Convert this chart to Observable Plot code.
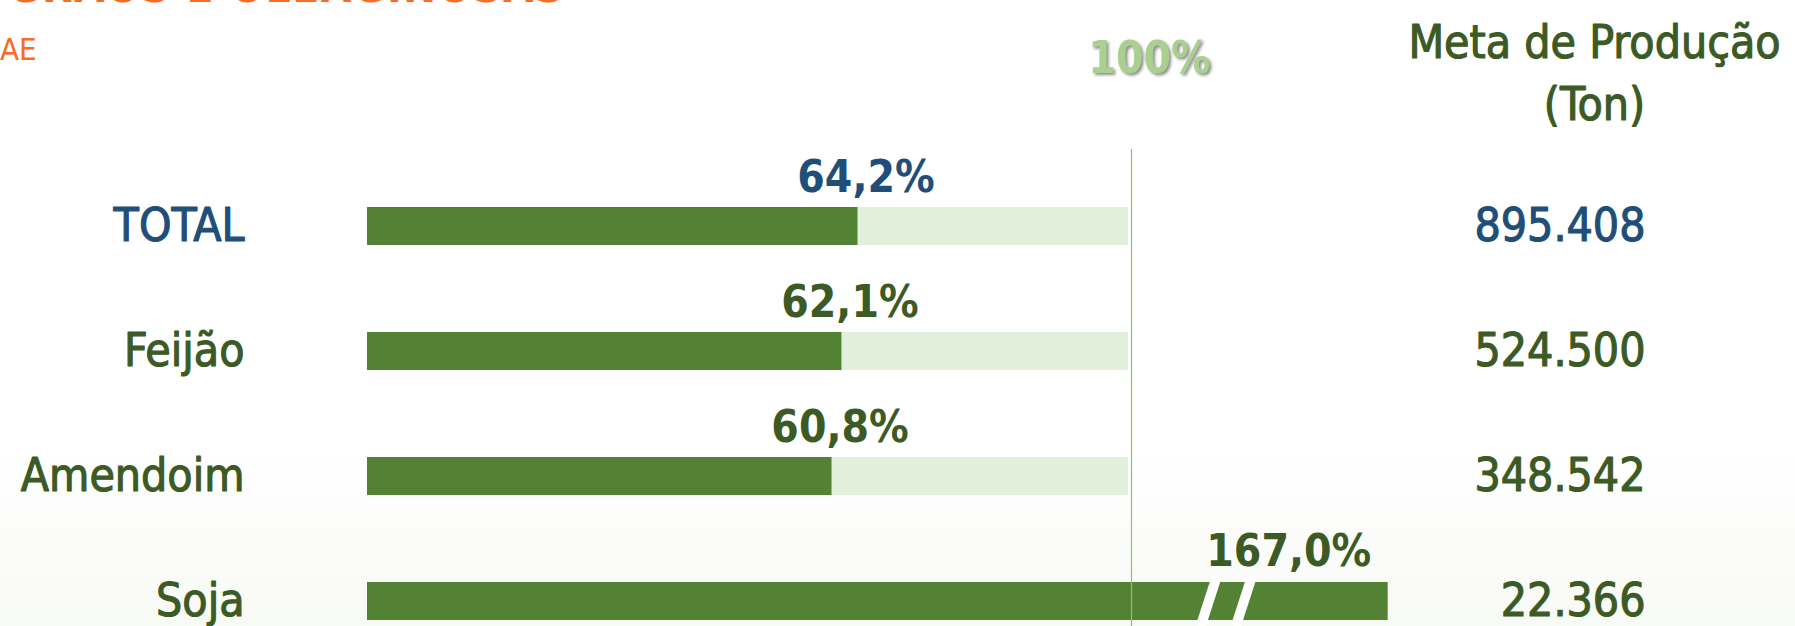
<!DOCTYPE html>
<html>
<head>
<meta charset="utf-8">
<script src="https://cdn.jsdelivr.net/npm/d3@7"></script>
<script src="https://cdn.jsdelivr.net/npm/@observablehq/plot@0.6"></script>
<style>
  html, body { margin: 0; padding: 0; background: #ffffff; }
  body { width: 1795px; height: 626px; position: relative; overflow: hidden;
         font-family: "DejaVu Sans Condensed", sans-serif;
         background: linear-gradient(to bottom, #ffffff 0%, #ffffff 72%, #f8faf5 100%); }
  #title { position: absolute; left: 8px; top: -39px; font-size: 44px; font-weight: bold;
           color: #fb6a1f; white-space: nowrap; letter-spacing: 1.5px; }
  #sub { position: absolute; left: 0px; top: 31px; font-size: 31px; color: #fb6a1f; }
  #chart { position: absolute; left: 0; top: 0; }
</style>
</head>
<body>
<div id="title">GRÃOS E OLEAGINOSAS</div>
<div id="sub">AE</div>
<div id="chart"></div>
<script>
// ---- data ----
const categories = ["TOTAL", "Feijão", "Amendoim", "Soja"];
const pctAchieved = [64.2, 62.1, 60.8, 167.0];
const pctLabels = ["64,2%", "62,1%", "60,8%", "167,0%"];
const metaTon = ["895.408", "524.500", "348.542", "22.366"];
const goalPct = 100;
const axisBreakCap = 133.6;          // displayed length of the broken Soja bar
const breakMarks = [110.1, 114.7];   // centres of the two break slashes (in % units)
const headerMeta = "Meta de Produção\n(Ton)";
const headerGoal = "100%";

const rows = categories.map((c, i) => ({
  cat: c, pct: pctAchieved[i], label: pctLabels[i], meta: metaTon[i]
}));

const blue = "#1f4e79", green = "#3b5a24";
const colorOf = d => d.cat === "TOTAL" ? blue : green;
const FONT = "'DejaVu Sans Condensed', sans-serif";

const slashShape = {
  draw(context, l) { context.moveTo(0, 0); context.lineTo(0, -l); }
};

const chart = Plot.plot({
  width: 1795, height: 626,
  marginLeft: 367, marginRight: 664, marginTop: 149, marginBottom: 0,
  x: { domain: [0, goalPct], axis: null },
  y: { domain: categories, range: [206, 620], paddingInner: 0.697, paddingOuter: 0, axis: null },
  style: { fontFamily: FONT, background: "transparent", overflow: "visible" },
  marks: [
    Plot.barX(rows, { y: "cat", x1: 0, x2: goalPct, fill: "#e2efda", insetRight: 3 }),
    Plot.barX(rows, { y: "cat", x1: 0, x2: d => Math.min(d.pct, axisBreakCap), fill: "#548235" }),
    Plot.vector(breakMarks, { x: d => d, y: () => "Soja", length: 44, rotate: 18, anchor: "middle",
                              stroke: "white", strokeWidth: 10, shape: slashShape }),
    Plot.ruleX([goalPct], { stroke: "#8cc46b", strokeWidth: 1.2 }),
    // category labels
    Plot.text(rows, { y: "cat", text: "cat", frameAnchor: "left", textAnchor: "end", dx: -123,
                      fill: colorOf, stroke: colorOf, strokeWidth: 1.1, fontSize: 46 }),
    // percent labels (regular rows)
    Plot.text(rows.filter(d => d.pct <= axisBreakCap), { y: "cat", x: "pct", text: "label",
                      textAnchor: "middle", dx: 8, dy: -49, fill: colorOf, fontSize: 44, fontWeight: "bold" }),
    // percent label for broken bar
    Plot.text(rows.filter(d => d.pct > axisBreakCap), { y: "cat", x: () => axisBreakCap, text: "label",
                      textAnchor: "end", dx: -17, dy: -50, fill: colorOf, fontSize: 44, fontWeight: "bold" }),
    // production goals
    Plot.text(rows, { y: "cat", text: "meta", frameAnchor: "right", textAnchor: "end", dx: 514,
                      fill: colorOf, stroke: colorOf, strokeWidth: 1.1, fontSize: 46 }),
    // headers
    Plot.text([headerGoal], { x: goalPct, text: d => d, frameAnchor: "top", lineAnchor: "middle",
                      dx: 18, dy: -91,
                      fill: "#a9d08e", fontSize: 44, fontWeight: "bold",
                      imageFilter: "drop-shadow(2px 2px 1.5px rgba(0,0,0,0.45))" }),
    Plot.text([headerMeta], { text: d => d, frameAnchor: "top-right", dx: 463, dy: -136,
                      lineAnchor: "top", lineHeight: 1.35, textAnchor: "middle",
                      fill: green, stroke: green, strokeWidth: 1.1, fontSize: 46 })
  ]
});
document.getElementById("chart").appendChild(chart);
</script>
</body>
</html>
